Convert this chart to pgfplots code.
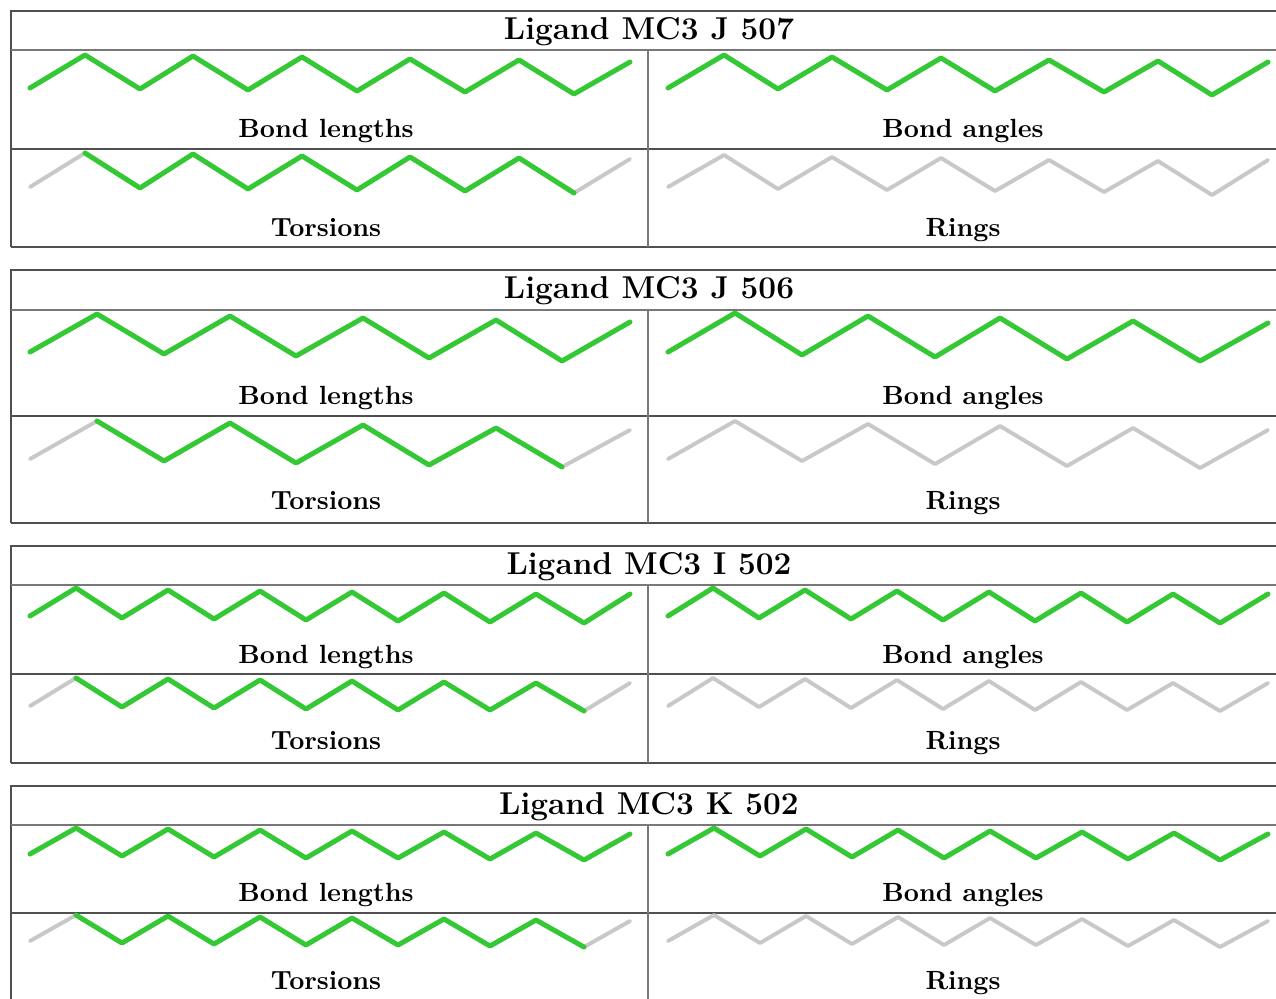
\documentclass[border=0pt]{standalone}
\usepackage{pgfplots}
\pgfplotsset{compat=1.18}
\definecolor{molgreen}{RGB}{52,200,52}
\definecolor{molgray}{RGB}{200,200,200}
\definecolor{framecol}{RGB}{80,80,80}
\definecolor{linecol}{RGB}{120,120,120}
\tikzset{
  lab/.style={anchor=base, font=\bfseries, inner sep=0pt},
  ttl/.style={anchor=base, font=\large\bfseries, inner sep=0pt},
}
\begin{document}
\begin{tikzpicture}
\begin{axis}[
  width=484.88pt, height=379.24pt, scale only axis,
  xmin=0, xmax=1276, ymin=0, ymax=998, y dir=reverse,
  hide axis, clip=true,
  grn/.style={color=molgreen, line width=1.9pt, line join=round, line cap=round, mark=none},
  gry/.style={color=molgray, line width=1.5pt, line join=round, line cap=round, mark=none},
]
% ---------- frames ----------
\newcommand{\panelframe}[4]{%
  \draw[framecol, line width=0.5pt] (axis cs:11,#4) -- (axis cs:11,#1) -- (axis cs:1276,#1);
  \draw[framecol, line width=0.5pt] (axis cs:11,#4) -- (axis cs:1276,#4);
  \draw[linecol, line width=0.5pt] (axis cs:11,#2) -- (axis cs:1276,#2);
  \draw[framecol, line width=0.5pt] (axis cs:11,#3) -- (axis cs:1276,#3);
  \draw[linecol, line width=0.6pt] (axis cs:648,#2) -- (axis cs:648,#4);
}
\panelframe{11}{50}{149}{247}
\panelframe{270}{310}{416}{523}
\panelframe{546}{585}{674}{763}
\panelframe{786}{825}{913}{1000}

% ---------- Panel 1 : Ligand MC3 J 507 ----------
\addplot[grn] coordinates {(30,88) (85,55) (140,89) (193,56) (248,90) (302,57) (357,91) (410,59) (465,92) (519,60) (574,94) (630,62)};
\addplot[grn] coordinates {(668,88) (724,55) (778,89) (832,57) (887,90) (941,58) (995,91) (1049,60) (1104,92) (1158,61) (1212,95) (1268,62)};
\addplot[gry] coordinates {(30,187) (85,153)};
\addplot[gry] coordinates {(574,193) (630,159)};
\addplot[grn] coordinates {(85,153) (140,188) (193,154) (248,189) (302,156) (357,190) (410,157) (465,191) (519,158) (574,193)};
\addplot[gry] coordinates {(668,187) (724,155) (778,189) (832,157) (887,190) (941,158) (995,191) (1049,160) (1104,192) (1158,161) (1212,195) (1268,160)};

% ---------- Panel 2 : Ligand MC3 J 506 ----------
\addplot[grn] coordinates {(30,352) (97,314) (164,354) (230,316) (296,356) (363,318) (429,358) (496,320) (562,361) (630,322)};
\addplot[grn] coordinates {(668,352) (735,313) (802,355) (868,316) (935,357) (1000,318) (1067,359) (1133,321) (1200,361) (1268,323)};
\addplot[gry] coordinates {(30,459) (97,421)};
\addplot[gry] coordinates {(562,467) (630,430)};
\addplot[grn] coordinates {(97,421) (164,461) (230,423) (296,463) (363,425) (429,465) (496,428) (562,467)};
\addplot[gry] coordinates {(668,459) (735,421) (802,461) (868,424) (935,464) (1000,426) (1067,466) (1133,428) (1200,468) (1268,430)};

% ---------- Panel 3 : Ligand MC3 I 502 ----------
\addplot[grn] coordinates {(30,616) (76,588) (122,618) (168,590) (214,619) (260,591) (306,620) (352,592) (398,621) (444,593) (490,622) (536,594) (584,623) (630,594)};
\addplot[grn] coordinates {(668,616) (713,588) (759,618) (805,590) (851,619) (897,591) (943,620) (989,592) (1035,621) (1081,593) (1127,622) (1173,594) (1220,623) (1268,594)};
\addplot[gry] coordinates {(30,706) (76,678)};
\addplot[gry] coordinates {(584,711) (630,683)};
\addplot[grn] coordinates {(76,678) (122,707) (168,679) (214,708) (260,680) (306,709) (352,681) (398,710) (444,682) (490,710) (536,683) (584,711)};
\addplot[gry] coordinates {(668,706) (713,678) (759,707) (805,679) (851,708) (897,680) (943,709) (989,681) (1035,710) (1081,682) (1127,710) (1173,683) (1220,711) (1268,683)};

% ---------- Panel 4 : Ligand MC3 K 502 ----------
\addplot[grn] coordinates {(30,854) (76,828) (122,856) (168,829) (214,857) (260,830) (306,858) (352,831) (398,858) (444,832) (490,859) (536,833) (584,860) (630,834)};
\addplot[grn] coordinates {(668,854) (714,828) (760,856) (806,829) (852,857) (898,830) (944,858) (990,831) (1036,858) (1082,832) (1128,859) (1174,833) (1220,860) (1268,834)};
\addplot[gry] coordinates {(30,941) (76,915)};
\addplot[gry] coordinates {(584,947) (630,921)};
\addplot[grn] coordinates {(76,915) (122,943) (168,916) (214,944) (260,917) (306,945) (352,918) (398,945) (444,919) (490,946) (536,920) (584,947)};
\addplot[gry] coordinates {(668,941) (714,915) (760,943) (806,916) (852,944) (898,917) (944,945) (990,918) (1036,945) (1082,919) (1128,946) (1174,920) (1220,947) (1268,921)};

% ---------- texts ----------
\node[ttl] at (axis cs:649,39) {Ligand MC3 J 507};
\node[lab] at (axis cs:326,137) {Bond lengths};
\node[lab] at (axis cs:963,137) {Bond angles};
\node[lab] at (axis cs:326,236) {Torsions};
\node[lab] at (axis cs:963,236) {Rings};

\node[ttl] at (axis cs:649,298) {Ligand MC3 J 506};
\node[lab] at (axis cs:326,404) {Bond lengths};
\node[lab] at (axis cs:963,404) {Bond angles};
\node[lab] at (axis cs:326,509) {Torsions};
\node[lab] at (axis cs:963,509) {Rings};

\node[ttl] at (axis cs:649,574) {Ligand MC3 I 502};
\node[lab] at (axis cs:326,663) {Bond lengths};
\node[lab] at (axis cs:963,663) {Bond angles};
\node[lab] at (axis cs:326,749) {Torsions};
\node[lab] at (axis cs:963,749) {Rings};

\node[ttl] at (axis cs:649,814) {Ligand MC3 K 502};
\node[lab] at (axis cs:326,901) {Bond lengths};
\node[lab] at (axis cs:963,901) {Bond angles};
\node[lab] at (axis cs:326,989) {Torsions};
\node[lab] at (axis cs:963,989) {Rings};
\end{axis}
\pgfresetboundingbox
\path (current axis.south west) rectangle (current axis.north east);
\end{tikzpicture}
\end{document}
